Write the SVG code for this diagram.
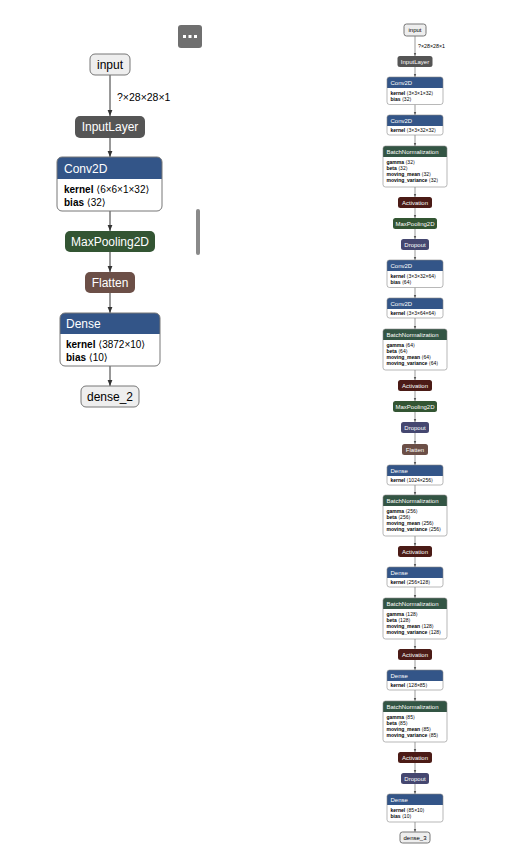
<svg xmlns="http://www.w3.org/2000/svg" width="505" height="862" viewBox="0 0 505 862">
<defs>
<style>
text{font-family:"Liberation Sans",Arial,"DejaVu Sans",sans-serif;}
.e{stroke:#333;stroke-width:1;fill:none;}
.er{stroke:#555;stroke-width:0.6;fill:none;}
.w{fill:#eee;stroke:#777;stroke-width:1;}
.o{fill:none;stroke:#777;stroke-width:1;}
.or{fill:none;stroke:#888;stroke-width:0.6;}
.bd{fill:#fff;}
.layer{fill:#335588;}
.data{fill:#555;}
.pool{fill:#335533;}
.norm{fill:#335544;}
.act{fill:#4b1b16;}
.drop{fill:#454770;}
.shape{fill:#6c4f47;}
.tw{fill:#fff;}
.tk{fill:#000;}
.L{font-size:12px;}
.Lb{font-size:10px;fill:#000;}
.R{font-size:6px;}
.Rb{font-size:5px;fill:#000;}
.c{text-anchor:middle;}
.b{font-weight:bold;}
</style>
<marker id="a" viewBox="0 0 10 10" refX="10" refY="5" markerWidth="6" markerHeight="6" markerUnits="userSpaceOnUse" orient="auto"><path d="M0,1 L10,5 L0,9 z" fill="#333"/></marker>
<marker id="ar" viewBox="0 0 10 10" refX="10" refY="5" markerWidth="3.2" markerHeight="3.2" markerUnits="userSpaceOnUse" orient="auto"><path d="M0,1 L10,5 L0,9 z" fill="#555"/></marker>
</defs>
<rect width="505" height="862" fill="#fff"/>

<g id="menu-button">
<rect x="178" y="25" width="24" height="23" rx="3" fill="#6f6f6f"/>
<rect x="183" y="35" width="3" height="3" fill="#fff"/>
<rect x="188.5" y="35" width="3" height="3" fill="#fff"/>
<rect x="194" y="35" width="3" height="3" fill="#fff"/>
</g>
<rect id="scrollbar" x="196" y="209" width="4" height="46" rx="2" fill="#8a8a8a"/>

<!-- left graph connectors -->
<g id="edges-left">
<path class="e" d="M110,75 V116" marker-end="url(#a)"/>
<text x="117" y="101" font-size="10.5" fill="#000">?×28×28×1</text>
<path class="e" d="M110,138 V157" marker-end="url(#a)"/>
<path class="e" d="M110,211 V231" marker-end="url(#a)"/>
<path class="e" d="M110,252 V272" marker-end="url(#a)"/>
<path class="e" d="M110,293 V313" marker-end="url(#a)"/>
<path class="e" d="M110,366 V386" marker-end="url(#a)"/>
</g>

<g id="l-input">
<rect class="w" x="90" y="54" width="40" height="21" rx="5"/>
<text class="L c tk" x="110" y="68.7">input</text>
</g>
<g id="l-inputlayer">
<rect class="data" x="75" y="116" width="70" height="22" rx="5"/>
<text class="L c tw" x="110" y="131.2">InputLayer</text>
</g>
<g id="l-conv2d">
<rect class="bd" x="57" y="157" width="105" height="54" rx="5"/>
<path class="layer" d="M57,179 V162 A5 5 0 0 1 62,157 H157 A5 5 0 0 1 162,162 V179 Z"/>
<rect class="o" x="57" y="157" width="105" height="54" rx="5"/>
<text class="L tw" x="64" y="172.5">Conv2D</text>
<text class="Lb" x="64" y="192.5"><tspan class="b">kernel</tspan> ⟨6×6×1×32⟩</text>
<text class="Lb" x="64" y="205.5"><tspan class="b">bias</tspan> ⟨32⟩</text>
</g>
<g id="l-maxpool">
<rect class="pool" x="65" y="231" width="90" height="21" rx="5"/>
<text class="L c tw" x="110" y="245.7">MaxPooling2D</text>
</g>
<g id="l-flatten">
<rect class="shape" x="85" y="272" width="50" height="21" rx="5"/>
<text class="L c tw" x="110" y="286.7">Flatten</text>
</g>
<g id="l-dense">
<rect class="bd" x="60" y="313" width="100" height="53" rx="5"/>
<path class="layer" d="M60,334 V318 A5 5 0 0 1 65,313 H155 A5 5 0 0 1 160,318 V334 Z"/>
<rect class="o" x="60" y="313" width="100" height="53" rx="5"/>
<text class="L tw" x="66" y="328">Dense</text>
<text class="Lb" x="66" y="347.5"><tspan class="b">kernel</tspan> ⟨3872×10⟩</text>
<text class="Lb" x="66" y="360.5"><tspan class="b">bias</tspan> ⟨10⟩</text>
</g>
<g id="l-dense_2">
<rect class="w" x="81" y="386" width="58" height="21" rx="5"/>
<text class="L c tk" x="110" y="400.7">dense_2</text>
</g>

<!-- right graph connectors -->
<g id="edges-right">
<path class="er" d="M415,36 V56" marker-end="url(#ar)"/>
<text x="418" y="48" font-size="5.3" fill="#000">?×28×28×1</text>
<path class="er" d="M415,67 V77" marker-end="url(#ar)"/>
<path class="er" d="M415,104.5 V115" marker-end="url(#ar)"/>
<path class="er" d="M415,135 V146" marker-end="url(#ar)"/>
<path class="er" d="M415,187 V197" marker-end="url(#ar)"/>
<path class="er" d="M415,208 V218" marker-end="url(#ar)"/>
<path class="er" d="M415,229 V239" marker-end="url(#ar)"/>
<path class="er" d="M415,250 V260" marker-end="url(#ar)"/>
<path class="er" d="M415,287.5 V298" marker-end="url(#ar)"/>
<path class="er" d="M415,318 V329" marker-end="url(#ar)"/>
<path class="er" d="M415,370 V380" marker-end="url(#ar)"/>
<path class="er" d="M415,391 V401" marker-end="url(#ar)"/>
<path class="er" d="M415,412 V422" marker-end="url(#ar)"/>
<path class="er" d="M415,433 V444" marker-end="url(#ar)"/>
<path class="er" d="M415,455 V465" marker-end="url(#ar)"/>
<path class="er" d="M415,485 V495" marker-end="url(#ar)"/>
<path class="er" d="M415,536 V546" marker-end="url(#ar)"/>
<path class="er" d="M415,557 V567" marker-end="url(#ar)"/>
<path class="er" d="M415,587 V598" marker-end="url(#ar)"/>
<path class="er" d="M415,639 V649" marker-end="url(#ar)"/>
<path class="er" d="M415,660 V670" marker-end="url(#ar)"/>
<path class="er" d="M415,690 V701" marker-end="url(#ar)"/>
<path class="er" d="M415,742 V752" marker-end="url(#ar)"/>
<path class="er" d="M415,763 V773" marker-end="url(#ar)"/>
<path class="er" d="M415,784 V794" marker-end="url(#ar)"/>
<path class="er" d="M415,822 V832" marker-end="url(#ar)"/>
</g>

<g id="r-input">
<rect class="w" x="404" y="24" width="22" height="12" rx="2.5" stroke-width="0.6"/>
<text class="R c tk" x="415" y="32.1">input</text>
</g>
<g id="r-inputlayer">
<rect class="data" x="397.5" y="56" width="35" height="11" rx="2.5"/>
<text class="R c tw" x="415" y="63.6">InputLayer</text>
</g>
<g id="r-conv2d-1">
<rect class="bd" x="387" y="77" width="56" height="27.5" rx="2.5"/>
<path class="layer" d="M387,88 V79.5 A2.5 2.5 0 0 1 389.5,77 H440.5 A2.5 2.5 0 0 1 443,79.5 V88 Z"/>
<rect class="or" x="387" y="77" width="56" height="27.5" rx="2.5"/>
<text class="R tw" x="390.5" y="84.6">Conv2D</text>
<text class="Rb" x="390.5" y="94.5"><tspan class="b">kernel</tspan> ⟨3×3×1×32⟩</text>
<text class="Rb" x="390.5" y="100.8"><tspan class="b">bias</tspan> ⟨32⟩</text>
</g>
<g id="r-conv2d-2">
<rect class="bd" x="387" y="115" width="56" height="20" rx="2.5"/>
<path class="layer" d="M387,126 V117.5 A2.5 2.5 0 0 1 389.5,115 H440.5 A2.5 2.5 0 0 1 443,117.5 V126 Z"/>
<rect class="or" x="387" y="115" width="56" height="20" rx="2.5"/>
<text class="R tw" x="390.5" y="122.6">Conv2D</text>
<text class="Rb" x="390.5" y="132.3"><tspan class="b">kernel</tspan> ⟨3×3×32×32⟩</text>
</g>
<g id="r-bn-1">
<rect class="bd" x="383" y="146" width="64" height="41" rx="2.5"/>
<path class="norm" d="M383,157 V148.5 A2.5 2.5 0 0 1 385.5,146 H444.5 A2.5 2.5 0 0 1 447,148.5 V157 Z"/>
<rect class="or" x="383" y="146" width="64" height="41" rx="2.5"/>
<text class="R tw" x="386.5" y="153.6">BatchNormalization</text>
<text class="Rb" x="386.5" y="163.5"><tspan class="b">gamma</tspan> ⟨32⟩</text>
<text class="Rb" x="386.5" y="169.8"><tspan class="b">beta</tspan> ⟨32⟩</text>
<text class="Rb" x="386.5" y="176.1"><tspan class="b">moving_mean</tspan> ⟨32⟩</text>
<text class="Rb" x="386.5" y="182.4"><tspan class="b">moving_variance</tspan> ⟨32⟩</text>
</g>
<g id="r-act-1">
<rect class="act" x="398" y="197" width="34" height="11" rx="2.5"/>
<text class="R c tw" x="415" y="204.6">Activation</text>
</g>
<g id="r-pool-1">
<rect class="pool" x="393" y="218" width="44" height="11" rx="2.5"/>
<text class="R c tw" x="415" y="225.6">MaxPooling2D</text>
</g>
<g id="r-drop-1">
<rect class="drop" x="401" y="239" width="28" height="11" rx="2.5"/>
<text class="R c tw" x="415" y="246.6">Dropout</text>
</g>
<g id="r-conv2d-3">
<rect class="bd" x="387" y="260" width="56" height="27.5" rx="2.5"/>
<path class="layer" d="M387,271 V262.5 A2.5 2.5 0 0 1 389.5,260 H440.5 A2.5 2.5 0 0 1 443,262.5 V271 Z"/>
<rect class="or" x="387" y="260" width="56" height="27.5" rx="2.5"/>
<text class="R tw" x="390.5" y="267.6">Conv2D</text>
<text class="Rb" x="390.5" y="277.5"><tspan class="b">kernel</tspan> ⟨3×3×32×64⟩</text>
<text class="Rb" x="390.5" y="283.8"><tspan class="b">bias</tspan> ⟨64⟩</text>
</g>
<g id="r-conv2d-4">
<rect class="bd" x="387" y="298" width="56" height="20" rx="2.5"/>
<path class="layer" d="M387,309 V300.5 A2.5 2.5 0 0 1 389.5,298 H440.5 A2.5 2.5 0 0 1 443,300.5 V309 Z"/>
<rect class="or" x="387" y="298" width="56" height="20" rx="2.5"/>
<text class="R tw" x="390.5" y="305.6">Conv2D</text>
<text class="Rb" x="390.5" y="315.3"><tspan class="b">kernel</tspan> ⟨3×3×64×64⟩</text>
</g>
<g id="r-bn-2">
<rect class="bd" x="383" y="329" width="64" height="41" rx="2.5"/>
<path class="norm" d="M383,340 V331.5 A2.5 2.5 0 0 1 385.5,329 H444.5 A2.5 2.5 0 0 1 447,331.5 V340 Z"/>
<rect class="or" x="383" y="329" width="64" height="41" rx="2.5"/>
<text class="R tw" x="386.5" y="336.6">BatchNormalization</text>
<text class="Rb" x="386.5" y="346.5"><tspan class="b">gamma</tspan> ⟨64⟩</text>
<text class="Rb" x="386.5" y="352.8"><tspan class="b">beta</tspan> ⟨64⟩</text>
<text class="Rb" x="386.5" y="359.1"><tspan class="b">moving_mean</tspan> ⟨64⟩</text>
<text class="Rb" x="386.5" y="365.4"><tspan class="b">moving_variance</tspan> ⟨64⟩</text>
</g>
<g id="r-act-2">
<rect class="act" x="398" y="380" width="34" height="11" rx="2.5"/>
<text class="R c tw" x="415" y="387.6">Activation</text>
</g>
<g id="r-pool-2">
<rect class="pool" x="393" y="401" width="44" height="11" rx="2.5"/>
<text class="R c tw" x="415" y="408.6">MaxPooling2D</text>
</g>
<g id="r-drop-2">
<rect class="drop" x="401" y="422" width="28" height="11" rx="2.5"/>
<text class="R c tw" x="415" y="429.6">Dropout</text>
</g>
<g id="r-flatten">
<rect class="shape" x="402" y="444" width="26" height="11" rx="2.5"/>
<text class="R c tw" x="415" y="451.6">Flatten</text>
</g>
<g id="r-dense-1">
<rect class="bd" x="387" y="465" width="56" height="20" rx="2.5"/>
<path class="layer" d="M387,476 V467.5 A2.5 2.5 0 0 1 389.5,465 H440.5 A2.5 2.5 0 0 1 443,467.5 V476 Z"/>
<rect class="or" x="387" y="465" width="56" height="20" rx="2.5"/>
<text class="R tw" x="390.5" y="472.6">Dense</text>
<text class="Rb" x="390.5" y="482.3"><tspan class="b">kernel</tspan> ⟨1024×256⟩</text>
</g>
<g id="r-bn-3">
<rect class="bd" x="383" y="495" width="64" height="41" rx="2.5"/>
<path class="norm" d="M383,506 V497.5 A2.5 2.5 0 0 1 385.5,495 H444.5 A2.5 2.5 0 0 1 447,497.5 V506 Z"/>
<rect class="or" x="383" y="495" width="64" height="41" rx="2.5"/>
<text class="R tw" x="386.5" y="502.6">BatchNormalization</text>
<text class="Rb" x="386.5" y="512.5"><tspan class="b">gamma</tspan> ⟨256⟩</text>
<text class="Rb" x="386.5" y="518.8"><tspan class="b">beta</tspan> ⟨256⟩</text>
<text class="Rb" x="386.5" y="525.1"><tspan class="b">moving_mean</tspan> ⟨256⟩</text>
<text class="Rb" x="386.5" y="531.4"><tspan class="b">moving_variance</tspan> ⟨256⟩</text>
</g>
<g id="r-act-3">
<rect class="act" x="398" y="546" width="34" height="11" rx="2.5"/>
<text class="R c tw" x="415" y="553.6">Activation</text>
</g>
<g id="r-dense-2">
<rect class="bd" x="387" y="567" width="56" height="20" rx="2.5"/>
<path class="layer" d="M387,578 V569.5 A2.5 2.5 0 0 1 389.5,567 H440.5 A2.5 2.5 0 0 1 443,569.5 V578 Z"/>
<rect class="or" x="387" y="567" width="56" height="20" rx="2.5"/>
<text class="R tw" x="390.5" y="574.6">Dense</text>
<text class="Rb" x="390.5" y="584.3"><tspan class="b">kernel</tspan> ⟨256×128⟩</text>
</g>
<g id="r-bn-4">
<rect class="bd" x="383" y="598" width="64" height="41" rx="2.5"/>
<path class="norm" d="M383,609 V600.5 A2.5 2.5 0 0 1 385.5,598 H444.5 A2.5 2.5 0 0 1 447,600.5 V609 Z"/>
<rect class="or" x="383" y="598" width="64" height="41" rx="2.5"/>
<text class="R tw" x="386.5" y="605.6">BatchNormalization</text>
<text class="Rb" x="386.5" y="615.5"><tspan class="b">gamma</tspan> ⟨128⟩</text>
<text class="Rb" x="386.5" y="621.8"><tspan class="b">beta</tspan> ⟨128⟩</text>
<text class="Rb" x="386.5" y="628.1"><tspan class="b">moving_mean</tspan> ⟨128⟩</text>
<text class="Rb" x="386.5" y="634.4"><tspan class="b">moving_variance</tspan> ⟨128⟩</text>
</g>
<g id="r-act-4">
<rect class="act" x="398" y="649" width="34" height="11" rx="2.5"/>
<text class="R c tw" x="415" y="656.6">Activation</text>
</g>
<g id="r-dense-3">
<rect class="bd" x="387" y="670" width="56" height="20" rx="2.5"/>
<path class="layer" d="M387,681 V672.5 A2.5 2.5 0 0 1 389.5,670 H440.5 A2.5 2.5 0 0 1 443,672.5 V681 Z"/>
<rect class="or" x="387" y="670" width="56" height="20" rx="2.5"/>
<text class="R tw" x="390.5" y="677.6">Dense</text>
<text class="Rb" x="390.5" y="687.3"><tspan class="b">kernel</tspan> ⟨128×85⟩</text>
</g>
<g id="r-bn-5">
<rect class="bd" x="383" y="701" width="64" height="41" rx="2.5"/>
<path class="norm" d="M383,712 V703.5 A2.5 2.5 0 0 1 385.5,701 H444.5 A2.5 2.5 0 0 1 447,703.5 V712 Z"/>
<rect class="or" x="383" y="701" width="64" height="41" rx="2.5"/>
<text class="R tw" x="386.5" y="708.6">BatchNormalization</text>
<text class="Rb" x="386.5" y="718.5"><tspan class="b">gamma</tspan> ⟨85⟩</text>
<text class="Rb" x="386.5" y="724.8"><tspan class="b">beta</tspan> ⟨85⟩</text>
<text class="Rb" x="386.5" y="731.1"><tspan class="b">moving_mean</tspan> ⟨85⟩</text>
<text class="Rb" x="386.5" y="737.4"><tspan class="b">moving_variance</tspan> ⟨85⟩</text>
</g>
<g id="r-act-5">
<rect class="act" x="398" y="752" width="34" height="11" rx="2.5"/>
<text class="R c tw" x="415" y="759.6">Activation</text>
</g>
<g id="r-drop-3">
<rect class="drop" x="401" y="773" width="28" height="11" rx="2.5"/>
<text class="R c tw" x="415" y="780.6">Dropout</text>
</g>
<g id="r-dense-4">
<rect class="bd" x="387" y="794" width="56" height="28" rx="2.5"/>
<path class="layer" d="M387,805 V796.5 A2.5 2.5 0 0 1 389.5,794 H440.5 A2.5 2.5 0 0 1 443,796.5 V805 Z"/>
<rect class="or" x="387" y="794" width="56" height="28" rx="2.5"/>
<text class="R tw" x="390.5" y="801.6">Dense</text>
<text class="Rb" x="390.5" y="811.5"><tspan class="b">kernel</tspan> ⟨85×10⟩</text>
<text class="Rb" x="390.5" y="817.8"><tspan class="b">bias</tspan> ⟨10⟩</text>
</g>
<g id="r-dense_3">
<rect class="w" x="400" y="832" width="30" height="11" rx="2.5" stroke-width="0.6"/>
<text class="R c tk" x="415" y="839.6">dense_3</text>
</g>
</svg>
